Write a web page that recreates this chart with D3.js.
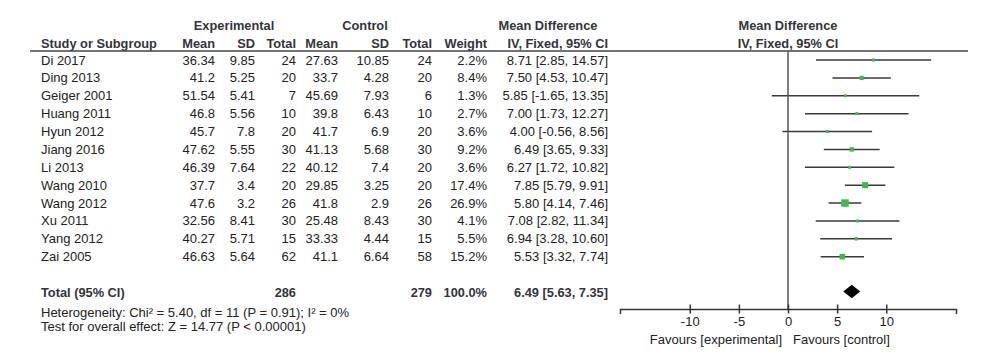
<!DOCTYPE html>
<html>
<head>
<meta charset="utf-8">
<script src="https://cdn.jsdelivr.net/npm/d3@7"></script>
<style>
    body { margin: 0; background: #fff; }
    svg { font-family: "Liberation Sans", Arial, sans-serif; font-size: 13px; }
    .head { font-weight: bold; fill: #33343c; font-size: 12.8px; }
    .cell { fill: #222; }
</style>
</head>
<body>
<div id="chart"></div>
<script>
const studies = ["Di 2017", "Ding 2013", "Geiger 2001", "Huang 2011", "Hyun 2012", "Jiang 2016",
    "Li 2013", "Wang 2010", "Wang 2012", "Xu 2011", "Yang 2012", "Zai 2005"];
const expMean = [36.34, 41.2, 51.54, 46.8, 45.7, 47.62, 46.39, 37.7, 47.6, 32.56, 40.27, 46.63];
const expSD = [9.85, 5.25, 5.41, 5.56, 7.8, 5.55, 7.64, 3.4, 3.2, 8.41, 5.71, 5.64];
const expN = [24, 20, 7, 10, 20, 30, 22, 20, 26, 30, 15, 62];
const ctlMean = [27.63, 33.7, 45.69, 39.8, 41.7, 41.13, 40.12, 29.85, 41.8, 25.48, 33.33, 41.1];
const ctlSD = [10.85, 4.28, 7.93, 6.43, 6.9, 5.68, 7.4, 3.25, 2.9, 8.43, 4.44, 6.64];
const ctlN = [24, 20, 6, 10, 20, 30, 20, 20, 26, 30, 15, 58];
const weight = [2.2, 8.4, 1.3, 2.7, 3.6, 9.2, 3.6, 17.4, 26.9, 4.1, 5.5, 15.2];
const md = [8.71, 7.50, 5.85, 7.00, 4.00, 6.49, 6.27, 7.85, 5.80, 7.08, 6.94, 5.53];
const ciLow = [2.85, 4.53, -1.65, 1.73, -0.56, 3.65, 1.72, 5.79, 4.14, 2.82, 3.28, 3.32];
const ciHigh = [14.57, 10.47, 13.35, 12.27, 8.56, 9.33, 10.82, 9.91, 7.46, 11.34, 10.60, 7.74];

const total = { expN: 286, ctlN: 279, weight: 100.0, md: 6.49, low: 5.63, high: 7.35 };
const tickValues = [-10, -5, 0, 5, 10];
const heterogeneity = "Heterogeneity: Chi\u00b2 = 5.40, df = 11 (P = 0.91); I\u00b2 = 0%";
const overallTest = "Test for overall effect: Z = 14.77 (P < 0.00001)";

(function () {
    "use strict";

    const width = 1000;
    const height = 354;

    const svg = d3.select("#chart").append("svg")
        .attr("width", width)
        .attr("height", height);

    const rows = studies.map((name, i) => ({
        name,
        cells: [expMean[i], expSD[i], expN[i], ctlMean[i], ctlSD[i], ctlN[i],
            weight[i].toFixed(1) + "%",
            `${md[i].toFixed(2)} [${ciLow[i].toFixed(2)}, ${ciHigh[i].toFixed(2)}]`],
        weight: weight[i],
        md: md[i],
        low: ciLow[i],
        high: ciHigh[i]
    }));

    const yScale = d3.scalePoint()
        .domain(studies)
        .range([60, 256.7]);

    const xScale = d3.scaleLinear()
        .domain([-17.1, 17.1])
        .range([620, 956]);

    const sizeScale = d3.scaleSqrt()
        .domain([0, 26.9])
        .range([0, 7.5]);

    // right edges of table columns
    const colRight = [215, 255, 296, 338, 389, 432, 487, 608];

    // headers
    const heads = [
        { text: "Experimental", x: 234, y: 26, anchor: "middle" },
        { text: "Control", x: 365, y: 26, anchor: "middle" },
        { text: "Mean Difference", x: 548, y: 26, anchor: "middle" },
        { text: "Mean Difference", x: 788, y: 26, anchor: "middle" },
        { text: "Study or Subgroup", x: 41, y: 44, anchor: "start" },
        { text: "IV, Fixed, 95% CI", x: 788, y: 44, anchor: "middle" }
    ];
    const subHeads = ["Mean", "SD", "Total", "Mean", "SD", "Total", "Weight", "IV, Fixed, 95% CI"];
    subHeads.forEach((t, i) => heads.push({ text: t, x: colRight[i], y: 44, anchor: "end" }));

    svg.append("g")
        .selectAll("text")
        .data(heads)
        .join("text")
        .attr("class", "head")
        .attr("x", d => d.x)
        .attr("y", d => d.y)
        .attr("dy", "0.35em")
        .attr("text-anchor", d => d.anchor)
        .text(d => d.text);

    svg.append("line")
        .attr("x1", 30)
        .attr("x2", 968)
        .attr("y1", 51)
        .attr("y2", 51)
        .attr("stroke", "#444")
        .attr("stroke-width", 1.5);

    // study rows
    const rowGroups = svg.append("g")
        .selectAll("g")
        .data(rows)
        .join("g")
        .attr("transform", d => `translate(0,${yScale(d.name)})`);

    rowGroups.append("text")
        .attr("class", "cell")
        .attr("x", 41)
        .attr("dy", "0.35em")
        .text(d => d.name);

    rowGroups.selectAll("text.val")
        .data(d => d.cells)
        .join("text")
        .attr("class", "cell val")
        .attr("x", (d, i) => colRight[i])
        .attr("dy", "0.35em")
        .attr("text-anchor", "end")
        .text(d => d);

    // zero line
    svg.append("line")
        .attr("x1", xScale(0))
        .attr("x2", xScale(0))
        .attr("y1", 51)
        .attr("y2", 309)
        .attr("stroke", "#555")
        .attr("stroke-width", 1.5);

    // confidence intervals
    rowGroups.append("line")
        .attr("x1", d => xScale(d.low))
        .attr("x2", d => xScale(d.high))
        .attr("stroke", "#3a3a3a")
        .attr("stroke-width", 1.5);

    rowGroups.append("rect")
        .attr("x", d => xScale(d.md) - Math.max(3, sizeScale(d.weight)) / 2)
        .attr("y", d => -Math.max(3, sizeScale(d.weight)) / 2)
        .attr("width", d => Math.max(3, sizeScale(d.weight)))
        .attr("height", d => Math.max(3, sizeScale(d.weight)))
        .attr("fill", "#3dbb4a");

    // total row
    const totalY = 292.5;
    const totalCells = [
        { text: "Total (95% CI)", x: 41, anchor: "start" },
        { text: total.expN, x: colRight[2], anchor: "end" },
        { text: total.ctlN, x: colRight[5], anchor: "end" },
        { text: total.weight.toFixed(1) + "%", x: colRight[6], anchor: "end" },
        { text: `${total.md.toFixed(2)} [${total.low.toFixed(2)}, ${total.high.toFixed(2)}]`, x: colRight[7], anchor: "end" }
    ];

    svg.append("g")
        .selectAll("text")
        .data(totalCells)
        .join("text")
        .attr("class", "head")
        .attr("x", d => d.x)
        .attr("y", totalY)
        .attr("dy", "0.35em")
        .attr("text-anchor", d => d.anchor)
        .text(d => d.text);

    const dh = 6.8;
    svg.append("path")
        .attr("d", `M${xScale(total.low)},${totalY - 1}L${xScale(total.md)},${totalY - 1 - dh}` +
            `L${xScale(total.high)},${totalY - 1}L${xScale(total.md)},${totalY - 1 + dh}Z`)
        .attr("fill", "#000");

    svg.append("g")
        .selectAll("text")
        .data([heterogeneity, overallTest])
        .join("text")
        .attr("class", "cell")
        .attr("x", 41)
        .attr("y", (d, i) => 312.7 + i * 14)
        .attr("dy", "0.35em")
        .text(d => d);

    // axis
    const xAxis = d3.axisBottom(xScale)
        .tickValues(tickValues)
        .tickFormat(d => String(d))
        .tickSizeOuter(0)
        .tickSize(5)
        .tickPadding(3);

    const axisG = svg.append("g")
        .attr("transform", "translate(0,309)")
        .call(xAxis);

    axisG.select(".domain")
        .attr("stroke", "#333")
        .attr("stroke-width", 1.5);

    axisG.selectAll(".tick line")
        .attr("y1", -4.5)
        .attr("y2", 4.5)
        .attr("stroke", "#333")
        .attr("stroke-width", 1.5);

    axisG.selectAll(".tick text")
        .attr("font-family", "\"Liberation Sans\", Arial, sans-serif")
        .attr("font-size", 13)
        .attr("fill", "#222");

    svg.append("text")
        .attr("class", "cell")
        .attr("x", xScale(0) - 6)
        .attr("y", 339)
        .attr("dy", "0.35em")
        .attr("text-anchor", "end")
        .text("Favours [experimental]");

    svg.append("text")
        .attr("class", "cell")
        .attr("x", xScale(0) + 5)
        .attr("y", 339)
        .attr("dy", "0.35em")
        .text("Favours [control]");
}());
</script>
</body>
</html>
